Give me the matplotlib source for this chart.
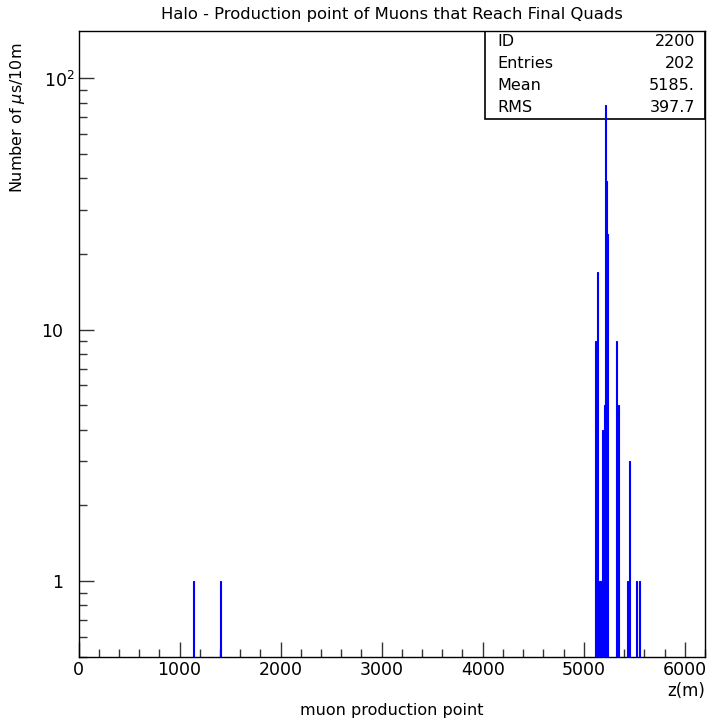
import numpy as np
import matplotlib
matplotlib.use('Agg')
import matplotlib.pyplot as plt
from matplotlib.ticker import FixedLocator, MultipleLocator, LogLocator, NullFormatter
from matplotlib.patches import Rectangle

# histogram content, 10 m bins (left edges) and counts
bin_left = [1130, 1400,
            5110, 5130, 5150, 5160, 5170, 5180, 5200, 5210, 5220, 5230,
            5320, 5340, 5430, 5450, 5520, 5550]
counts = [1, 1,
          9, 17, 1, 1, 1, 4, 5, 78, 39, 24,
          9, 5, 1, 3, 1, 1]

stat_names = ['ID', 'Entries', 'Mean', 'RMS']
stat_values = ['2200', '202', '5185.', '397.7']

W, H = 707, 721
fig = plt.figure(figsize=(W / 100, H / 100), dpi=100)
ax = fig.add_axes([78.5 / W, 1 - 656.7 / H, (705 - 78.5) / W, (656.7 - 31) / H])

ax.bar(bin_left, counts, width=10, align='edge', color='#0000ff',
       edgecolor='#0000ff', linewidth=0.8, zorder=3)

ax.set_yscale('log')
ax.set_xlim(0, 6200)
ax.set_ylim(0.5, 154)

ax.xaxis.set_major_locator(MultipleLocator(1000))
ax.xaxis.set_minor_locator(MultipleLocator(200))
ax.yaxis.set_major_locator(FixedLocator([1, 10, 100]))
ax.set_yticklabels(['1', '10', ''])
ax.yaxis.set_minor_locator(LogLocator(base=10, subs=np.arange(2, 10)))
ax.yaxis.set_minor_formatter(NullFormatter())

ax.tick_params(which='both', direction='in', top=False, right=False,
               color='#333333', labelsize=12.5)
ax.tick_params(which='major', length=11, width=1)
ax.tick_params(which='minor', length=6, width=1)
ax.tick_params(axis='x', pad=3)
ax.tick_params(axis='y', pad=11)
for s in ax.spines.values():
    s.set_linewidth(1.0)

# 10^2 label sits with its base aligned like "10"
fig.text(44 / W, 1 - 79 / H, r'$10^{2}$', fontsize=12.5, ha='left', va='center_baseline')

# stats box
bx0 = (485 - 78.5) / (705 - 78.5)
by0 = (656.7 - 119) / (656.7 - 31)
ax.add_patch(Rectangle((bx0, by0), 1 - bx0, 1 - by0, transform=ax.transAxes,
                       facecolor='white', edgecolor='black', linewidth=1.2, zorder=2))
for i, (n, v) in enumerate(zip(stat_names, stat_values)):
    y = 1 - (42 + 21.7 * i) / H
    fig.text(497 / W, y, n, fontsize=11.5, ha='left', va='center')
    fig.text(695 / W, y, v, fontsize=11.5, ha='right', va='center')

fig.text(392 / W, 1 - 14 / H, 'Halo - Production point of Muons that Reach Final Quads',
         fontsize=11.8, ha='center', va='center')
fig.text(18 / W, 1 - 118 / H, r'Number of $\mu$s/10m', fontsize=11.5,
         rotation=90, ha='center', va='center')
fig.text(705 / W, 1 - 691 / H, 'z(m)', fontsize=12, ha='right', va='center')
fig.text(392 / W, 1 - 710 / H, 'muon production point', fontsize=11.5,
         ha='center', va='center')

fig.savefig('out.png', dpi=100)
